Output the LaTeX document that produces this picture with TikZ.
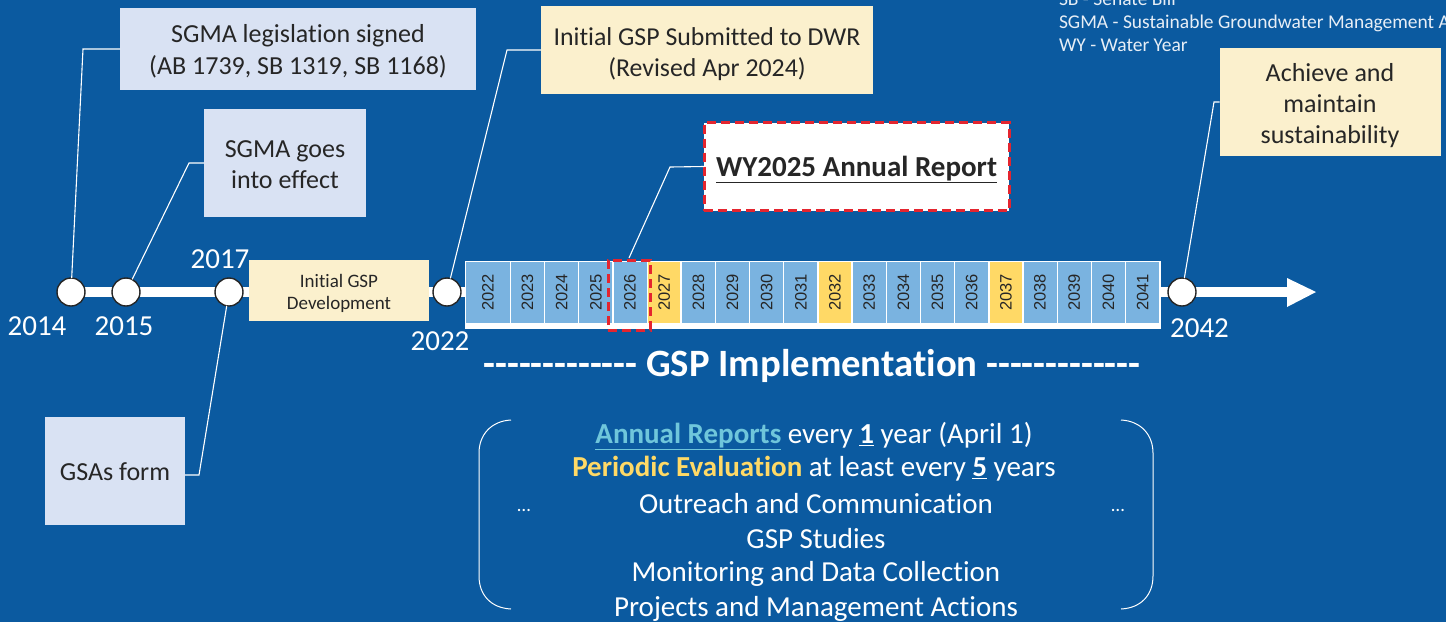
\documentclass[tikz,border=0pt]{standalone}
\usepackage{fontspec}
\newfontfamily\calib{Carlito}[Ligatures=NoCommon]
\newfontfamily\arialfont{Liberation Sans}
\definecolor{bgblue}{HTML}{0B5AA0}
\definecolor{cellblue}{HTML}{7AB3E0}
\definecolor{cellyellow}{HTML}{FFD966}
\definecolor{cream}{HTML}{FBF0CD}
\definecolor{paleblue}{HTML}{D9E2F3}
\definecolor{darktext}{HTML}{262626}
\definecolor{redbox}{HTML}{E4252F}
\definecolor{annual}{HTML}{6FC6DB}
\newcommand{\fsz}[1]{\calib\fontsize{#1}{#1}\selectfont}
\newcommand{\lift}[1]{\rule{0pt}{#1pt}}
\tikzset{
 x=1pt,y=-1pt,
 every node/.style={inner sep=0pt,outer sep=0pt},
 boxtext/.style={align=center,text=darktext,font=\fsz{26}},
 paper/.style={fill=paleblue},
 sand/.style={fill=cream},
 leader/.style={draw=white,line width=1.1pt},
 milestone/.style={circle,draw=darktext,fill=white,line width=1.4pt,minimum size=28pt},
 yearlabel/.style={text=white,font=\fsz{29}},
 cellbox/.style={minimum height=61pt,text=darktext,font=\fsz{16.5}\arialfont},
 bracket/.style={draw=white,line width=1pt},
 bodyline/.style={text=white,font=\fsz{29}},
 keyline/.style={text=white!90!bgblue,font=\fsz{19.5},anchor=west},
 reddash/.style={draw=redbox,line width=3pt,dash pattern=on 9pt off 5pt},
}
\begin{document}
\begin{tikzpicture}
\useasboundingbox (0,0) rectangle (1446,622);
\clip (0,0) rectangle (1446,622);
\fill[bgblue] (0,0) rectangle (1446,622);

% legend
\node[keyline] (k1) at (1059,-1) {SB - Senate Bill};
\node[keyline] (k2) at (1059,23) {SGMA - Sustainable Groundwater Management Act};
\node[keyline] (k3) at (1059,45) {WY - Water Year};

% time line
\coordinate (linestart) at (71,292);
\coordinate (lineend) at (1288,292);
\draw[white,line width=10pt] (linestart) -- (lineend);
\fill[white] (1287,278) -- (1316,292) -- (1287,307) -- cycle;

% boxes
\node[paper,boxtext,minimum width=356pt,minimum height=82pt] (b1) at (298,49) {\lift{22}SGMA legislation signed\\[6pt](AB 1739, SB 1319, SB 1168)};
\node[paper,boxtext,minimum width=162pt,minimum height=108pt] (b2) at (285,163) {\lift{21}SGMA goes\\[5pt]into effect};
\node[paper,boxtext,minimum width=140pt,minimum height=108pt] (b3) at (115,471) {\lift{19}GSAs form};
\node[sand,boxtext,font=\fsz{25.8},minimum width=332pt,minimum height=88pt] (b4) at (707,50) {\lift{26}Initial GSP Submitted to DWR\\[6pt](Revised Apr 2024)};
\node[fill=white,reddash,minimum width=305pt,minimum height=88pt,text=darktext,font=\bfseries\fsz{29}] (b5) at (856.5,166.5) {\lift{27}\underline{WY2025 Annual Report}};
\node[sand,boxtext,minimum width=221pt,minimum height=108pt] (b6) at (1330,102) {\lift{25}Achieve and\\[5pt]maintain\\[5pt]sustainability};
\node[sand,minimum width=180pt,minimum height=61pt,align=center,text=darktext,font=\fsz{19}] (dev) at (339,290.5) {\lift{19.5}Initial GSP\\[3.5pt]Development};

% year strip
\node[fill=white,minimum width=696pt,minimum height=68pt] (strip) at (813,294.5) {};
\node[cellbox,fill=cellblue,minimum width=44pt] (y2022) at (488,292.5) {\rotatebox{90}{2022}};
\foreach \yr in {2023,...,2041}{
  \pgfmathsetmacro{\cx}{527.5+(\yr-2023)*34.17}
  \ifnum\yr=2027 \def\cc{cellyellow}\def\cw{32pt}\else
  \ifnum\yr=2032 \def\cc{cellyellow}\def\cw{32pt}\else
  \ifnum\yr=2037 \def\cc{cellyellow}\def\cw{32pt}\else
  \def\cc{cellblue}\def\cw{33pt}\fi\fi\fi
  \node[cellbox,fill=\cc,minimum width=\cw] (y\yr) at (\cx,292.5) {\rotatebox{90}{\yr}};
}
\node[reddash,minimum width=42pt,minimum height=70pt] (focus) at (629,295) {};

% milestones
\node[milestone] (c2014) at (71,292) {};
\node[milestone] (c2015) at (126,292) {};
\node[milestone] (c2017) at (229,292) {};
\node[milestone] (c2022) at (447,292) {};
\node[milestone] (c2042) at (1182,292) {};

% leaders
\coordinate (e1) at (83,49);
\coordinate (e2) at (189,163);
\coordinate (e3) at (199,475);
\coordinate (e4) at (507,50);
\coordinate (e5) at (670,167);
\coordinate (e6) at (1214,102);
\draw[leader] (c2014) -- (e1) -- (b1.west);
\draw[leader] (c2015) -- (e2) -- (b2.west);
\draw[leader] (c2017) -- (e3) -- (b3.east |- e3);
\draw[leader] (c2022) -- (e4) -- (b4.west);
\draw[leader] (focus.north) ++(0,-2) -- (e5) -- (b5.west);
\draw[leader] (c2042) -- (e6) -- (b6.west);

% year labels
\node[yearlabel] (t2014) at (37,326.5) {2014};
\node[yearlabel] (t2015) at (124,326.5) {2015};
\node[yearlabel] (t2017) at (220,259.5) {2017};
\node[yearlabel] (t2022) at (440,341.5) {2022};
\node[yearlabel] (t2042) at (1199.5,328.5) {2042};

% implementation text
\node[text=white,font=\bfseries\fsz{38.7}] (impl) at (812,366) {------------- GSP Implementation -------------};
\node[bodyline] (l1) at (814,436) {\textcolor{annual}{\textbf{\underline{Annual Reports}}} every \textbf{\underline{1}} year (April 1)};
\node[bodyline] (l2) at (814,468.5) {\textcolor{cellyellow}{\textbf{Periodic Evaluation}} at least every \textbf{\underline{5}} years};
\node[bodyline] (l3) at (816,504) {Outreach and Communication};
\node[bodyline] (l4) at (816,539) {GSP Studies};
\node[bodyline] (l5) at (816,574) {Monitoring and Data Collection};
\node[bodyline] (l6) at (816,609) {Projects and Management Actions};
\node[text=white,font=\fsz{19}] (dl) at (524,510) {\dots};
\node[text=white,font=\fsz{19}] (dr) at (1118,510) {\dots};

% brackets
\draw[bracket] (511,420) .. controls (491,421) and (479,435) .. (479,453) -- (479,576) .. controls (479,595) and (491,608) .. (511,609);
\draw[bracket] (1121,420) .. controls (1141,421) and (1153,435) .. (1153,453) -- (1153,576) .. controls (1153,595) and (1141,608) .. (1121,609);
\end{tikzpicture}
\end{document}
